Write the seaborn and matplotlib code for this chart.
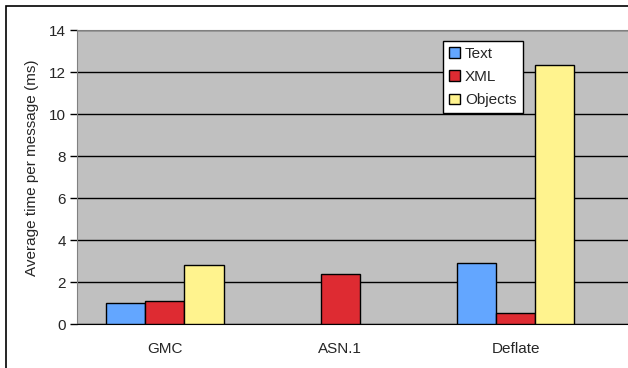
import seaborn as sns
import matplotlib.pyplot as plt
import pandas as pd
import numpy as np

# values
categories = ['GMC', 'ASN.1', 'Deflate']
series = ['Text', 'XML', 'Objects']
text_ms = [1.0, np.nan, 2.9]
xml_ms = [1.1, 2.38, 0.52]
objects_ms = [2.8, np.nan, 12.35]
colors = ['#63A6FF', '#DE2B32', '#FFF38E']

rows = []
for name, vals in zip(series, [text_ms, xml_ms, objects_ms]):
    for cat, v in zip(categories, vals):
        rows.append({'cat': cat, 'series': name, 'ms': v})
df = pd.DataFrame(rows)

sns.set_style('white')
plt.rcParams['font.family'] = ['Liberation Sans', 'DejaVu Sans']

fig = plt.figure(figsize=(6.28, 3.68), dpi=100)
ax = fig.add_axes([77 / 628, 1 - 324 / 368, 1 - 77 / 628, 294 / 368])

sns.barplot(data=df, x='cat', y='ms', hue='series', hue_order=series,
            order=categories, palette=colors, saturation=1, width=0.67, dodge=True,
            edgecolor='black', linewidth=1, errorbar=None, ax=ax, zorder=3)

ax.set_facecolor('#C0C0C0')
ax.set_ylim(0, 14)
ax.set_yticks(range(0, 15, 2))
ax.set_xlim(-0.5, 2.64)
ax.yaxis.grid(True, color='black', linewidth=1, zorder=1)
ax.set_axisbelow(True)

ax.set_xticks([0, 1, 2])
ax.set_xticklabels(categories, fontsize=11)
ax.tick_params(axis='x', length=0, pad=13)
ax.set_xticks([0.5, 1.5], minor=True)
ax.tick_params(axis='x', which='minor', length=5, width=1, color='black', direction='out')
ax.tick_params(axis='y', length=5, width=1, color='black', direction='out', labelsize=11, pad=3, left=True)

ax.set_xlabel('')
ax.set_ylabel('Average time per message (ms)', fontsize=11)
ax.yaxis.set_label_coords(-0.069, 0.53)

for side in ['top', 'left']:
    ax.spines[side].set_color('#808080')
ax.spines['bottom'].set_color('black')
ax.spines['right'].set_visible(False)

leg = ax.legend(loc='upper left', bbox_to_anchor=(0.664, 0.963), borderaxespad=0,
                fontsize=11, frameon=True, fancybox=False, framealpha=1,
                edgecolor='black', handlelength=0.7, handleheight=0.7,
                handletextpad=0.35, labelspacing=0.6, borderpad=0.4, title=None)
leg.get_frame().set_linewidth(1)

# outer chart border (cropped at right and bottom)
fig.patches.append(plt.Rectangle((6 / 628, -0.1), 1.2, (362 / 368) + 0.1,
                                 transform=fig.transFigure, fill=False,
                                 edgecolor='black', linewidth=1.2))

fig.savefig('out.png', dpi=100)
